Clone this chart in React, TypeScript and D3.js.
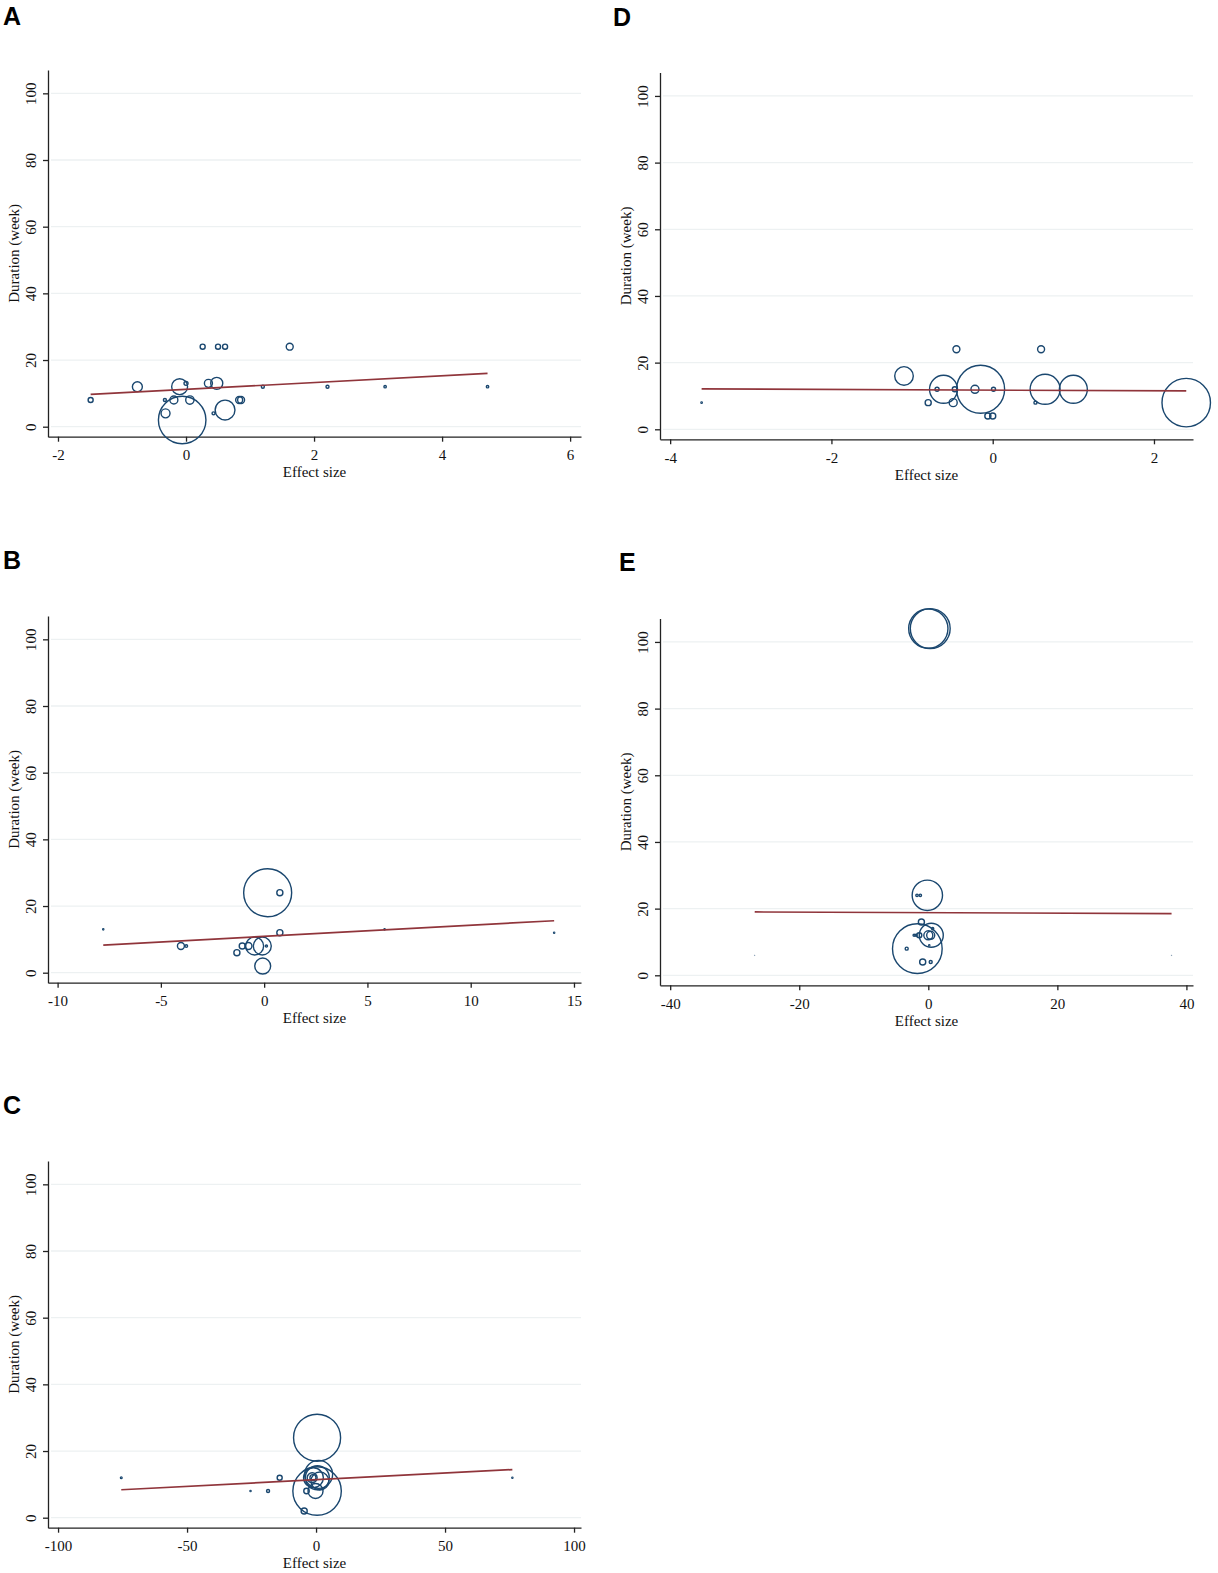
import * as d3 from 'd3';
import { useEffect, useRef } from 'react';

// shared y axis (duration in weeks)
const weekTicks = [0, 20, 40, 60, 80, 100];

// panel A
const aTicks = [-2, 0, 2, 4, 6];
const aEffect = [-1.49, -0.76, -0.33, -0.32, -0.19, -0.1, 0.0, -0.06, 0.06, 0.26, 0.35, 0.48, 0.5, 0.61, 0.43, 0.61, 0.83, 0.86, 1.2, 1.62, 2.21, 3.11, 4.71];
const aWeeks = [8, 12, 8, 4, 8, 12, 13, 2, 8, 24, 13, 13, 24, 24, 4, 5, 8, 8, 12, 24, 12, 12, 12];
const aWeight = [1.1, 4.3, 0.4, 3.5, 2.8, 11, 0.7, 98, 3, 1.1, 2.8, 6.3, 1.1, 1.1, 0.4, 17, 2.1, 2.1, 0.4, 2.1, 0.4, 0.25, 0.25];
const aFit = [11.2, 1.018];

// panel B
const bTicks = [-10, -5, 0, 5, 10, 15];
const bEffect = [-7.79, -4.03, -3.77, -1.32, -1.06, -0.76, -0.46, -0.09, 0.11, -0.07, 0.17, 0.76, 0.76, 5.83, 14.04];
const bWeeks = [13, 8, 8, 6, 8, 8, 8, 8, 8, 2, 24, 24, 12, 13, 12];
const bWeight = [0.1, 2.1, 0.3, 1.6, 1.6, 2.1, 14, 14, 0.2, 11, 100, 1.6, 1.6, 0.1, 0.1];
const bFit = [10.9, 0.334];

// panel C
const cTicks = [-100, -50, 0, 50, 100];
const cEffect = [-75.5, -25.4, -18.6, -14.1, -4.6, -3.7, -0.2, 0.4, 0.4, 1.0, 0.5, -1.0, -1.5, -1.2, 1.5, 76.1];
const cWeeks = [12, 8, 8, 12, 2, 8, 8, 8, 24, 13, 12, 12, 12, 12, 11, 12];
const cWeight = [0.15, 0.1, 0.4, 1.1, 1.6, 1.3, 9.8, 102, 96, 34, 25, 17, 4.3, 1.6, 14, 0.1];
const cFit = [11.4, 0.04];

// panel D
const dTicks = [-4, -2, 0, 2];
const dEffect = [-3.61, -1.1, -0.8, -0.69, -0.61, -0.47, -0.49, -0.45, -0.22, -0.15, 0.01, -0.06, 0.0, 0.53, 0.6, 0.65, 1.0, 2.4];
const dWeeks = [8, 16, 8, 12, 12, 12, 8, 24, 12, 12, 12, 4, 4, 8, 24, 12, 12, 8];
const dWeight = [0.12, 15, 1.6, 0.7, 34, 1.1, 2.8, 2.1, 2.8, 100, 0.7, 1.6, 1.6, 0.4, 2.1, 39, 34, 102];
const dFit = [11.74, -0.1];

// panel E
const eTicks = [-40, -20, 0, 20, 40];
const eEffect = [0, 0.3, -0.15, -1.75, -1.24, -1.07, -1.7, 0.46, -3.35, -2.2, -1.9, -1.4, 0, 0.37, 0.68, -0.87, 0.37, 0.15, -26.9, 37.7];
const eWeeks = [104, 104, 24, 24, 24, 16, 8, 12, 8, 12, 12, 12, 12, 12, 14, 4, 4, 9, 6, 6];
const eWeight = [67, 69, 40, 0.25, 0.25, 1.6, 107, 25, 0.4, 0.2, 0.2, 1.1, 3.5, 2.8, 0.2, 1.6, 0.4, 0.1, 0.01, 0.01];
const eFit = [18.79, -0.0077];

const panels = [
  { label: 'A', lx: 3, ly: 25, ox: 0, oy: 0, domain: [-2.156, 6.17], ticks: aTicks, xs: aEffect, ys: aWeeks, ws: aWeight, fit: aFit },
  { label: 'D', lx: 613, ly: 26, ox: 612, oy: 2.6, domain: [-4.126, 2.484], ticks: dTicks, xs: dEffect, ys: dWeeks, ws: dWeight, fit: dFit },
  { label: 'B', lx: 3, ly: 569, ox: 0, oy: 546, domain: [-10.465, 15.34], ticks: bTicks, xs: bEffect, ys: bWeeks, ws: bWeight, fit: bFit },
  { label: 'E', lx: 619, ly: 571, ox: 612, oy: 548.6, domain: [-41.58, 41.02], ticks: eTicks, xs: eEffect, ys: eWeeks, ws: eWeight, fit: eFit },
  { label: 'C', lx: 3, ly: 1114, ox: 0, oy: 1091, domain: [-103.9, 102.7], ticks: cTicks, xs: cEffect, ys: cWeeks, ws: cWeight, fit: cFit },
];

const serif = '"Liberation Serif", "Times New Roman", serif';
const navy = '#1a476f';
const maroon = '#90353b';

const App = () => {
  const ref = useRef<SVGSVGElement | null>(null);

  useEffect(() => {
    const svg = d3.select(ref.current);
    svg.selectAll('*').remove();

    const left = 48;
    const right = 581;
    const size = d3.scaleSqrt().domain([0, 100]).range([0, 24]);

    panels.forEach((p) => {
      // panel letter
      svg
        .append('text')
        .attr('x', p.lx)
        .attr('y', p.ly)
        .attr('font-family', '"Liberation Sans", Arial, sans-serif')
        .attr('font-weight', 'bold')
        .attr('font-size', 25)
        .text(p.label);

      const g = svg.append('g').attr('transform', `translate(${p.ox},${p.oy})`);
      const x = d3.scaleLinear().domain(p.domain).range([left, right]);
      const y = d3.scaleLinear().domain([-3, 107]).range([436.7, 70]);

      // grid
      g.selectAll('line.grid')
        .data(weekTicks)
        .join('line')
        .attr('class', 'grid')
        .attr('x1', left + 3)
        .attr('x2', right)
        .attr('y1', (d) => y(d))
        .attr('y2', (d) => y(d))
        .attr('stroke', '#edf1f2')
        .attr('stroke-width', 1.3);

      // y axis
      const ya = g
        .append('g')
        .attr('transform', `translate(${left},0)`)
        .call(d3.axisLeft(y).tickValues(weekTicks).tickSize(5).tickSizeOuter(0).tickFormat((d) => String(d)));
      ya.attr('font-family', serif).attr('font-size', 15).attr('color', '#222');
      ya.selectAll('path, line').attr('stroke-width', 1.3);
      ya.selectAll('text')
        .attr('x', null)
        .attr('dy', null)
        .attr('text-anchor', 'middle')
        .attr('fill', '#111')
        .attr('transform', 'translate(-12.5,0) rotate(-90)');

      // x axis
      const xa = g
        .append('g')
        .attr('transform', `translate(0,${y(-3)})`)
        .call(d3.axisBottom(x).tickValues(p.ticks).tickSize(5).tickSizeOuter(0).tickFormat((d) => String(d)));
      xa.attr('font-family', serif).attr('font-size', 15).attr('color', '#222');
      xa.selectAll('path, line').attr('stroke-width', 1.3);
      xa.selectAll('text').attr('y', 23.3).attr('dy', null).attr('fill', '#111');

      // titles
      g.append('text')
        .attr('x', (left + right) / 2)
        .attr('y', 477)
        .attr('text-anchor', 'middle')
        .attr('font-family', serif)
        .attr('font-size', 15)
        .attr('fill', '#111')
        .text('Effect size');
      g.append('text')
        .attr('transform', `translate(19,${(y(-3) + y(107)) / 2}) rotate(-90)`)
        .attr('text-anchor', 'middle')
        .attr('font-family', serif)
        .attr('font-size', 15)
        .attr('fill', '#111')
        .text('Duration (week)');

      // bubbles
      const pts = p.xs.map((v, i) => ({ x: v, y: p.ys[i], r: Math.max(size(p.ws[i]), 0.25) }));
      g.selectAll('circle')
        .data(pts)
        .join('circle')
        .attr('cx', (d) => x(d.x))
        .attr('cy', (d) => y(d.y))
        .attr('r', (d) => d.r)
        .attr('fill', 'none')
        .attr('stroke', navy)
        .attr('stroke-width', (d) => Math.min(1.4, d.r + 0.3));

      // linear fit over the data range
      const ext = d3.extent(p.xs) as [number, number];
      const line = d3
        .line<number>()
        .x((d) => x(d))
        .y((d) => y(p.fit[0] + p.fit[1] * d));
      g.append('path')
        .attr('d', line(ext))
        .attr('fill', 'none')
        .attr('stroke', maroon)
        .attr('stroke-width', 1.7);
    });
  }, []);

  return (
    <svg
      ref={ref}
      width={1218}
      height={1573}
      style={{ position: 'absolute', left: 0, top: 0, background: '#fff', display: 'block' }}
    ></svg>
  );
};

export default App;
